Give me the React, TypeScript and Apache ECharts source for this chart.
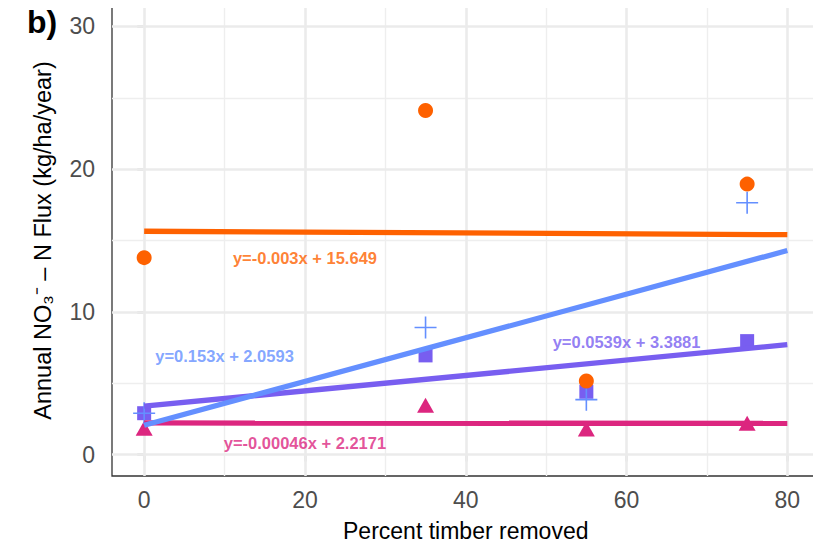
import React, { useEffect, useRef } from "react";
import * as echarts from "echarts";

// Observations (percent timber removed vs annual NO3- - N flux)
const timberRemoved = [0, 35, 55, 75];
const circleFlux = [13.8, 24.1, 5.15, 18.95];
const crossFlux = [2.9, 8.9, 3.85, 17.65];
const squareFlux = [2.9, 6.95, 4.4, 7.95];
const triangleFlux = [1.85, 3.45, 1.8, 2.2];

// Fitted regression lines (end points at 0 and 80)
const fitX = [0, 80];
const circleFit = [15.649, 15.409];
const crossFit = [2.0593, 14.2993];
const squareFit = [3.3881, 7.7001];
const triangleFit = [2.2171, 2.1803];

// Equation labels
const equations = ["y=-0.003x + 15.649", "y=0.153x + 2.0593", "y=0.0539x + 3.3881", "y=-0.00046x + 2.2171"];
const equationX = [20, 10, 60, 20];
const equationY = [13.8, 6.9, 7.9, 0.8];

// Axis ticks
const xTicks = [0, 20, 40, 60, 80];
const xMinorTicks = [10, 30, 50, 70];
const yTicks = [0, 10, 20, 30];
const yMinorTicks = [5, 15, 25];

const ORANGE = "#FE6100";
const BLUE = "#648FFF";
const PURPLE = "#785EF0";
const PINK = "#DC267F";
const FONT = "'Liberation Sans', Arial, Helvetica, sans-serif";

const CROSS =
  "path://M10.2,0 H11.8 V10.2 H22 V11.8 H11.8 V22 H10.2 V11.8 H0 V10.2 H10.2 Z";

const pts = (ys: number[]) => timberRemoved.map((x, i) => [x, ys[i]]);
const fit = (ys: number[]) => fitX.map((x, i) => [x, ys[i]]);

export default function App() {
  const ref = useRef<HTMLDivElement>(null);
  useEffect(() => {
    if (!ref.current) return;
    const chart = echarts.init(ref.current, undefined, { renderer: "svg" });
    const equationColors = [ORANGE, BLUE, PURPLE, PINK];
    const major = { color: "#EBEBEB", width: 2.6, type: "solid" };
    const minor = { color: "#EEEEEE", width: 1.4, type: "solid" };
    const lineSeries = (data: number[][], color: string) => ({
      type: "line",
      data,
      symbol: "none",
      lineStyle: { color, width: 5.3, cap: "butt" },
      z: 5,
      silent: true,
    });
    const scatter = (data: number[][], symbol: string, size: any, color: string, z = 3) => ({
      type: "scatter",
      data,
      symbol,
      symbolSize: size,
      itemStyle: { color, opacity: 1 },
      z,
    });
    chart.setOption({
      animation: false,
      textStyle: { fontFamily: FONT },
      grid: {
        left: 112,
        right: 1.5,
        top: 5,
        bottom: 72,
        show: true,
        borderColor: "#333333",
        borderWidth: 1.3,
        outerBoundsMode: "none",
      },
      graphic: [
        {
          type: "text",
          left: 27,
          top: 6,
          style: { text: "b)", fontSize: 32, fontWeight: "bold", fill: "#000", fontFamily: FONT },
        },
      ],
      xAxis: {
        type: "value",
        min: -4,
        max: 84,
        axisLine: { show: false },
        axisTick: { show: true, customValues: xTicks, length: 7, lineStyle: { color: "#333333", width: 1.3 } },
        axisLabel: { customValues: xTicks, fontSize: 23, color: "#4D4D4D", margin: 12, fontFamily: FONT },
        splitLine: { show: false },
        name: "Percent timber removed",
        nameLocation: "middle",
        nameGap: 43,
        nameTextStyle: { fontSize: 23, color: "#000", fontFamily: FONT },
      },
      yAxis: {
        type: "value",
        min: -1.5,
        max: 31.5,
        axisLine: { show: false },
        axisTick: { show: true, customValues: yTicks, length: 7, lineStyle: { color: "#333333", width: 1.3 } },
        axisLabel: { customValues: yTicks, fontSize: 23, color: "#4D4D4D", margin: 17, fontFamily: FONT },
        splitLine: { show: false },
        name: "Annual NO\u2083\u207B \u2013 N Flux (kg/ha/year)",
        nameLocation: "middle",
        nameGap: 57,
        nameTextStyle: { fontSize: 23.5, color: "#000", fontFamily: FONT },
      },
      series: [
        {
          type: "line",
          data: [],
          silent: true,
          z: 1,
          markLine: {
            silent: true,
            z: 1,
            symbol: "none",
            label: { show: false },
            emphasis: { disabled: true },
            data: [
              ...xMinorTicks.map((v) => ({ xAxis: v, lineStyle: minor })),
              ...yMinorTicks.map((v) => ({ yAxis: v, lineStyle: minor })),
              ...xTicks.map((v) => ({ xAxis: v, lineStyle: major })),
              ...yTicks.map((v) => ({ yAxis: v, lineStyle: major })),
            ],
          },
        },
        scatter(pts(triangleFlux), "triangle", [17, 15], PINK),
        scatter(pts(squareFlux), "rect", 14, PURPLE),
        scatter(pts(circleFlux), "circle", 15, ORANGE),
        scatter(pts(crossFlux), CROSS, 22, BLUE, 4),
        lineSeries(fit(circleFit), ORANGE),
        lineSeries(fit(triangleFit), PINK),
        lineSeries(fit(squareFit), PURPLE),
        lineSeries(fit(crossFit), BLUE),
        {
          type: "scatter",
          symbolSize: 0,
          silent: true,
          z: 6,
          data: equations.map((t, i) => ({
            value: [equationX[i], equationY[i]],
            label: {
              show: true,
              position: "inside",
              formatter: t,
              color: equationColors[i],
              fontSize: 16.5,
              fontWeight: "bold",
              fontFamily: FONT,
            },
          })),
        },
      ],
    });
    return () => chart.dispose();
  }, []);
  return <div ref={ref} style={{ width: 821, height: 548, margin: -8 }} />;
}
